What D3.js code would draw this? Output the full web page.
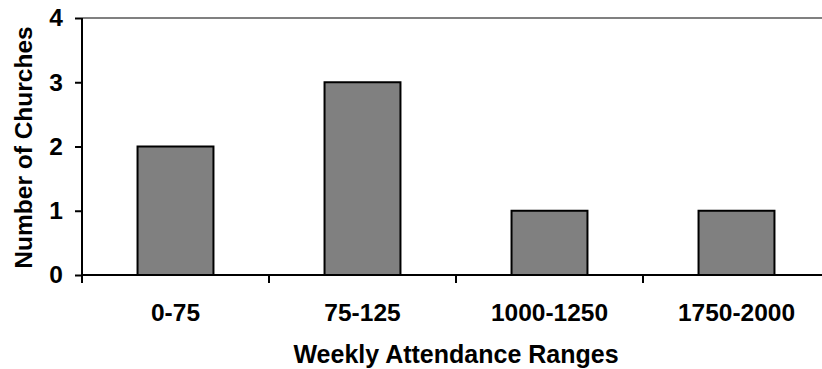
<!DOCTYPE html>
<html>
<head>
<meta charset="utf-8">
<script src="https://cdn.jsdelivr.net/npm/d3@7"></script>
<style>
  html, body { margin: 0; padding: 0; background: #fff; }
  svg { display: block; }
  text { font-family: "Liberation Sans", Arial, sans-serif; font-weight: bold; fill: #000; }
</style>
</head>
<body>
<script>
// Attendance buckets and how many churches fall in each
const categories = ["0-75", "75-125", "1000-1250", "1750-2000"];
const churchCounts = [2, 3, 1, 1];
const yTicks = [0, 1, 2, 3, 4];

const W = 822, H = 369;
const plot = { left: 82, right: 830, top: 18, bottom: 275 };
const fontSize = 24.5;

const svg = d3.select("body").append("svg")
  .attr("width", W).attr("height", H);

const pad = 0.594;
const x = d3.scaleBand()
  .domain(categories)
  .range([plot.left, plot.right])
  .paddingInner(pad)
  .paddingOuter(pad / 2);

const y = d3.scaleLinear().domain([0, 4]).range([plot.bottom, plot.top]);

// grey frame line along the top of the plot area
svg.append("line")
  .attr("x1", plot.left).attr("x2", plot.right)
  .attr("y1", y(4)).attr("y2", y(4))
  .attr("stroke", "#808080").attr("stroke-width", 2);

// bars
svg.selectAll("rect.bar")
  .data(categories.map((c, i) => ({ c, v: churchCounts[i] })))
  .join("rect")
  .attr("class", "bar")
  .attr("x", d => x(d.c))
  .attr("width", x.bandwidth())
  .attr("y", d => y(d.v))
  .attr("height", d => y(0) - y(d.v))
  .attr("fill", "#808080")
  .attr("stroke", "#000")
  .attr("stroke-width", 2);

// y axis
const yAxis = svg.append("g")
  .attr("transform", `translate(${plot.left},0)`)
  .call(d3.axisLeft(y).tickValues(yTicks).tickFormat(d3.format("d")).tickSize(7).tickPadding(12));
yAxis.select(".domain").attr("stroke", "#000").attr("stroke-width", 2)
  .attr("d", `M0,${plot.bottom + 8}V${plot.top}`);
yAxis.selectAll(".tick line").attr("stroke", "#000").attr("stroke-width", 2);
yAxis.selectAll(".tick text").attr("font-size", fontSize).style("font-weight", "bold")
  .attr("font-family", "Liberation Sans, Arial, sans-serif");

// x axis: baseline, ticks at category boundaries, centred labels
const step = x.step();
const boundaries = categories.map(c => x(c) - step * pad / 2).concat([plot.right]);
svg.append("line")
  .attr("x1", plot.left).attr("x2", plot.right)
  .attr("y1", y(0)).attr("y2", y(0))
  .attr("stroke", "#000").attr("stroke-width", 2);
svg.selectAll("line.xtick")
  .data(boundaries)
  .join("line")
  .attr("class", "xtick")
  .attr("x1", d => d).attr("x2", d => d)
  .attr("y1", y(0)).attr("y2", y(0) + 8)
  .attr("stroke", "#000").attr("stroke-width", 2);
svg.selectAll("text.xlabel")
  .data(categories)
  .join("text")
  .attr("class", "xlabel")
  .attr("x", d => x(d) + x.bandwidth() / 2)
  .attr("y", 321)
  .attr("text-anchor", "middle")
  .attr("font-size", fontSize)
  .text(d => d);

// axis titles
svg.append("text")
  .attr("x", 456).attr("y", 363)
  .attr("text-anchor", "middle")
  .attr("font-size", 25)
  .text("Weekly Attendance Ranges");

svg.append("text")
  .attr("transform", `translate(32,${(plot.top + plot.bottom) / 2 + 1}) rotate(-90)`)
  .attr("text-anchor", "middle")
  .attr("font-size", fontSize)
  .text("Number of Churches");
</script>
</body>
</html>
